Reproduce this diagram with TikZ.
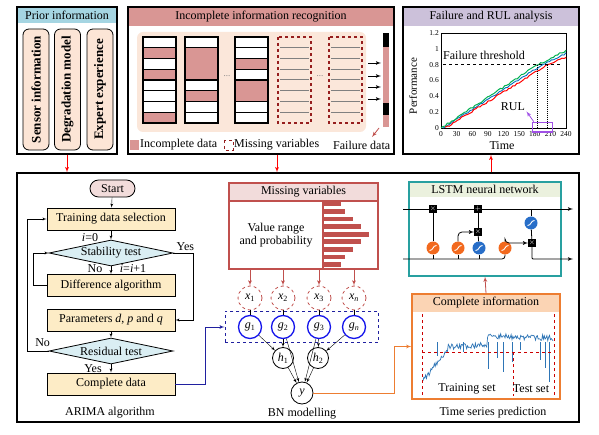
\documentclass[tikz,border=0pt]{standalone}
\usepackage{fontspec}
\setmainfont{Liberation Serif}
\usetikzlibrary{shapes,arrows,positioning,fit,calc}
\definecolor{priorblue}{RGB}{165,213,226}
\definecolor{peach}{RGB}{252,229,214}
\definecolor{rose}{RGB}{217,150,148}
\definecolor{panel}{RGB}{251,231,218}
\definecolor{darkrose}{RGB}{150,30,30}
\definecolor{lavender}{RGB}{204,193,218}
\definecolor{flowyellow}{RGB}{253,236,198}
\definecolor{testblue}{RGB}{218,238,243}
\definecolor{startpink}{RGB}{242,220,219}
\definecolor{bnrose}{RGB}{192,80,77}
\definecolor{navy}{RGB}{32,32,160}
\definecolor{gblue}{RGB}{20,20,235}
\definecolor{teal}{RGB}{40,160,160}
\definecolor{lstmband}{RGB}{235,241,222}
\definecolor{ciorange}{RGB}{237,125,49}
\definecolor{ciband}{RGB}{251,212,180}
\definecolor{sigorange}{RGB}{242,105,30}
\definecolor{sigblue}{RGB}{40,110,200}
\definecolor{tsblue}{RGB}{46,117,182}
\definecolor{rulgreen}{RGB}{0,176,80}
\definecolor{rulblue}{RGB}{0,112,192}
\definecolor{rulpurple}{RGB}{160,80,230}
\newcommand{\midfont}{\fontsize{12}{13}\selectfont}
\newcommand{\datacol}[2]{%
    \foreach \r in {1,...,8}
        \draw[cell] (#1,{26.25+\r*10.75}) rectangle ++(33,10.75);
    \foreach \r/\n in {#2}
        \draw[cell, fill=rose] (#1,{26.25+\r*10.75}) rectangle ++(33,{\n*10.75});
}
\tikzset{
    line/.style={draw, -latex'},
    frame/.style={draw, line width=1.3pt, inner sep=0pt},
    pill/.style={draw, thick, rounded corners=6pt, fill=peach, minimum width=121pt, minimum height=26pt, inner sep=0pt, font=\fontsize{13}{14}\selectfont\bfseries},
    cell/.style={draw, line width=1.1pt, fill=white},
    flowbox/.style={rectangle, draw, thick, fill=flowyellow, minimum width=128pt, minimum height=22pt, font=\midfont},
    test/.style={diamond, draw, thick, fill=testblue, aspect=4.8, minimum width=124pt, minimum height=26pt, inner sep=0pt, font=\midfont},
    xnode/.style={circle, draw=bnrose, dashed, thick, minimum size=24pt, inner sep=0pt, font=\midfont},
    gnode/.style={circle, draw=gblue, line width=1.3pt, minimum size=23pt, inner sep=0pt, font=\midfont},
    hnode/.style={circle, draw, thick, fill=white, minimum size=21pt, inner sep=0pt, font=\midfont},
    gate/.style={rectangle, fill=black, minimum size=7.5pt, inner sep=0pt, text=white, font=\bfseries\scriptsize},
    sigm/.style={circle, fill=#1, minimum size=13pt, inner sep=0pt,
        path picture={\draw[white, line width=0.9pt] ([shift={(-3.5pt,-2.5pt)}]path picture bounding box.center) .. controls +(4pt,0pt) and +(-4pt,0pt) .. ([shift={(3.5pt,2.5pt)}]path picture bounding box.center);}}
}
\begin{document}
\begin{tikzpicture}[x=1pt, y=-1pt]
    \useasboundingbox (0,0) rectangle (599,435);

    % Prior information
    \fill[priorblue] (17,7) rectangle (117,23);
    \node [frame, minimum width=100pt, minimum height=147pt] (pr) at (67,80.5) {};
    \node [font=\midfont] at (67,15) {Prior information};
    \node [pill, rotate=90] (sensor) at (36,89.5) {Sensor information};
    \node [pill, rotate=90] (degr) at (67.5,89.5) {Degradation model};
    \node [pill, rotate=90] (expert) at (100,89.5) {Expert experience};

    % Incomplete information recognition
    \fill[rose] (128,7) rectangle (394,26);
    \node [frame, minimum width=266pt, minimum height=147pt] (inc) at (261,80.5) {};
    \node [font=\midfont] at (261,16.5) {Incomplete information recognition};
    \fill[panel, rounded corners=6pt] (137,32) rectangle (366,132);
    \datacol{143}{2/1,4/1,8/1}
    \datacol{185}{2/3,6/1}
    \datacol{235}{3/1,5/2}
    \foreach \cx in {278,329} {
        \foreach \r in {1,...,7}
            \draw[gray, line width=1pt] (\cx+2,{37+\r*10.75}) -- (\cx+31,{37+\r*10.75});
        \draw[darkrose, dashed, line width=1.1pt] (\cx,37) rectangle (\cx+33,123);
    }
    \node [gray, font=\small] at (227,76) {...};
    \node [gray, font=\small] at (320,76) {...};
    \foreach \ay in {63,76,87,99}
        \draw[-latex', thick] (368,\ay) -- (381,\ay);
    \fill[rose] (383,33) rectangle (389,127);
    \fill[black] (383,33) rectangle (389,47);
    \fill[black] (383,103) rectangle (389,115);
    \draw[-latex', bnrose, thick] (379,128) -- (372,137);
    % legend
    \fill[rose] (130,140) rectangle (139,150);
    \node [font=\midfont, anchor=west, inner sep=1pt] at (139,145) {Incomplete data};
    \draw[darkrose, dashed, thick] (224,140) rectangle (233,150);
    \node [font=\midfont, anchor=west, inner sep=1pt] at (233,145) {Missing variables};
    \node [font=\midfont, anchor=west, inner sep=1pt] at (332,145) {Failure data};

    % Failure and RUL analysis
    \fill[lavender] (403,7) rectangle (579,26);
    \node [frame, minimum width=176pt, minimum height=147pt] (rul) at (491,80.5) {};
    \node [font=\midfont] at (491,16.5) {Failure and RUL analysis};
    \begin{scope}[shift={(441,128)}, x=0.521pt, y=79.2pt]
        \draw[thin] (0,0) rectangle (240,1.2);
        \foreach \v in {0,0.2,0.4,0.6,0.8,1,1.2}
            \node [font=\fontsize{7.5}{8}\selectfont, anchor=east, inner sep=1pt] at (-2,\v) {\v};
        \foreach \t in {0,30,...,240}
            \node [font=\fontsize{7.5}{8}\selectfont, anchor=north, inner sep=1pt] at (\t,-0.03) {\t};
        \pgfmathsetseed{11}
        \draw[rulblue, line width=0.9pt] plot[domain=4:240, samples=60] (\x, {max(0, min(0.0042*(\x-4), 0.8+0.0031*(\x-194)) + 0.01*rand)});
        \draw[rulgreen, line width=1pt] plot[domain=0:240, samples=60] (\x, {max(0, min(0.0043*\x, 0.8+0.0033*(\x-186)) + 0.012*rand)});
        \draw[red, line width=1pt] plot[domain=8:240, samples=60] (\x, {max(0, min(0.00406*(\x-8), 0.8+0.00286*(\x-205)) + 0.012*rand)});
        \draw[dashed, line width=1.1pt] (4,0.8) -- (232,0.8);
        \draw[densely dotted, line width=1pt] (186,0.8) -- (186,0);
        \draw[densely dotted, line width=1pt] (205,0.8) -- (205,0);
        \draw[rulpurple, line width=1.1pt] (176,0.07) rectangle (214,-0.05);
        \draw[-latex', rulpurple, thick] (178,0.08) -- (164,0.21);
        \node [font=\midfont, anchor=west, inner sep=1pt] at (2,0.915) {Failure threshold};
        \node [font=\midfont] at (138,0.27) {RUL};
    \end{scope}
    \node [font=\fontsize{11}{12}\selectfont, rotate=90] at (413,86) {Performance};
    \node [font=\midfont] at (502,146) {Time};

    % Lower frame
    \node [frame, minimum width=562pt, minimum height=249pt] (low) at (298,297.5) {};
    \draw[-latex', red, thick] (pr.south) -- (pr.south |- low.north);
    \draw[-latex', red, thick] ([xshift=16pt]inc.south) -- ([xshift=16pt]inc.south |- low.north);
    \draw[-latex', red, thick] (rul.south |- low.north) -- (rul.south);

    % ARIMA algorithm
    \node [draw, thick, fill=startpink, rounded corners=8.5pt, minimum width=45pt, minimum height=17pt, inner sep=0pt, font=\midfont] (st) at (112.5,188.5) {Start};
    \node [flowbox] (tds) at (111,219) {Training data selection};
    \node [test] (stab) at (111,253) {Stability test};
    \node [flowbox] (dif) at (111,285.5) {Difference algorithm};
    \node [flowbox] (par) at (111,320) {Parameters \textit{d}, \textit{p} and \textit{q}};
    \node [test] (res) at (111,351) {Residual test};
    \node [flowbox] (cd) at (111,384) {Complete data};
    \path [line] (st) -- (tds);
    \path [line] (tds) -- (stab);
    \path [line] (stab) -- (dif);
    \path [line] (stab.east) -- ++(20,0) |- (par.east);
    \path [line] (dif.west) -- ++(-13,0) |- (stab.west);
    \path [line] (par) -- (res);
    \path [line] (res.west) -- ++(-21,0) |- (tds.west);
    \path [line] (res) -- (cd);
    \node [font=\midfont] at ($(tds.south)+(-21,7)$) {\textit{i}=0};
    \node [font=\midfont] at ($(stab.east)+(12,-6)$) {Yes};
    \node [font=\midfont] at ($(stab.south)+(-16,2.5)$) {No};
    \node [font=\midfont] at ($(stab.south)+(22,2.5)$) {\textit{i}=\textit{i}+1};
    \node [font=\midfont] at ($(res.west)+(-6,-8)$) {No};
    \node [font=\midfont] at ($(res.south)+(-18,4)$) {Yes};
    \node [font=\midfont] at (110,413) {ARIMA algorithm};

    % BN modelling
    \fill[startpink] (229,183) rectangle (378,201);
    \node [draw=bnrose, line width=1.1pt, minimum width=149pt, minimum height=86pt, inner sep=0pt] (mv) at (303.5,226) {};
    \draw[bnrose, line width=1.1pt] (229,201) -- (378,201);
    \draw[bnrose, line width=1.1pt] (323,201) -- (323,269);
    \node [font=\midfont] at (303.5,192) {Missing variables};
    \node [font=\midfont, align=center] at (276,235) {Value range\\and probability};
    \foreach \i/\len in {0/17,1/21,2/29,3/37,4/45,5/37,6/29,7/21,8/17}
        \fill[bnrose] (324,{201.5+\i*7.6}) rectangle ++(\len,4.8);
    \node [xnode] (x1) at (250,298) {\textit{x}\textsubscript{1}};
    \node [xnode] (x2) at (283,298) {\textit{x}\textsubscript{2}};
    \node [xnode] (x3) at (319,298) {\textit{x}\textsubscript{3}};
    \node [xnode] (xn) at (354,298) {\textit{x}\textsubscript{\textit{n}}};
    \node [gnode] (g1) at (250,327) {\textit{g}\textsubscript{1}};
    \node [gnode] (g2) at (283,327) {\textit{g}\textsubscript{2}};
    \node [gnode] (g3) at (319,327) {\textit{g}\textsubscript{3}};
    \node [gnode] (gn) at (354,327) {\textit{g}\textsubscript{\textit{n}}};
    \node [draw=navy, dashed, line width=1.3pt, inner xsep=12.5pt, inner ysep=3.5pt, fit=(g1)(gn)] (gbox) {};
    \node [hnode] (h1) at (283,358) {\textit{h}\textsubscript{1}};
    \node [hnode] (h2) at (318,358) {\textit{h}\textsubscript{2}};
    \node [hnode, minimum size=22pt] (yv) at (302,393) {\textit{y}};
    \foreach \x in {x1,x2,x3,xn} {
        \draw[-latex', bnrose, thick] (\x |- mv.south) -- (\x);
    }
    \draw (x1) -- (g1);
    \draw (x2) -- (g2);
    \draw (x3) -- (g3);
    \draw (xn) -- (gn);
    \foreach \a/\b in {g1/h1,g2/h1,g3/h2,gn/h2,g2/yv,g3/yv,h1/yv,h2/yv}
        \path [line] (\a) -- (\b);
    \node [font=\midfont] at (302,414) {BN modelling};
    \draw[-latex', navy, thick] (cd.east) -- ++(30,0) |- (gbox.west);

    % LSTM neural network
    \fill[lstmband] (409,182) rectangle (561,197);
    \node [draw=teal, line width=1.1pt, minimum width=152pt, minimum height=94pt, inner sep=0pt] (lstm) at (485,229) {};
    \node [font=\midfont] at (485,189.5) {LSTM neural network};
    \coordinate (cin) at (403,209);
    \coordinate (cout) at (573,209);
    \coordinate (hin) at (403,259);
    \coordinate (hout) at (573,259);
    \node [gate] (fx) at (433,209) {$\times$};
    \node [gate] (ad) at (478,209) {$+$};
    \node [gate] (im) at (478,232) {$\times$};
    \node [gate] (om) at (532,243) {$\times$};
    \node [sigm=sigorange] (sf) at (433,248) {};
    \node [sigm=sigorange] (si) at (458,248) {};
    \node [sigm=sigblue] (tc) at (479,248) {};
    \node [sigm=sigorange] (so) at (505,248) {};
    \node [sigm=sigblue] (tt) at (531,223) {};
    \draw[thick] (cin) -- (fx);
    \draw[thick] (fx) -- (ad);
    \draw[thick, -latex'] (ad) -- (cout);
    \draw[thick, rounded corners=3pt] (hin) -| (so);
    \draw[thick] (sf |- hin) -- (sf);
    \draw[thick] (si |- hin) -- (si);
    \draw[thick] (tc |- hin) -- (tc);
    \draw[thick] (sf) -- (fx);
    \draw[thick, -latex', rounded corners=4pt] (si) |- (im);
    \draw[thick] (tc) -- (im);
    \draw[thick] (im) -- (ad);
    \draw[thick, -latex', rounded corners=4pt] (so) |- (om);
    \draw[thick] (tt |- cin) -- (tt);
    \draw[thick] (tt) -- (om);
    \draw[thick, -latex', rounded corners=1pt] (om) |- (hout);

    % Complete information
    \fill[ciband] (412,294) rectangle (560,312);
    \node [draw=ciorange, line width=1.3pt, minimum width=148pt, minimum height=105pt, inner sep=0pt] (ci) at (486,346.5) {};
    \node [font=\midfont] at (486,303) {Complete information};
    \pgfmathsetseed{5}
    \draw[tsblue, line width=0.7pt] plot[domain=423:553, samples=150] (\x, {((\x<448) ? (381-1.3*(\x-423)) : ((\x<487) ? (347-0.05*(\x-448)) : (336+0.03*(\x-487)))) + 2.8*rand});
    \foreach \sx/\sy in {437/356,463/352,488/369,497/358,503/372,512/362,520/350,540/360,545/368,549/382}
        \draw[tsblue, line width=0.6pt] (\sx,342) -- (\sx,\sy);
    \draw[red!80!black, dashed, thick] (422,314) -- (422,396);
    \draw[red!80!black, dashed, thick] (554,314) -- (554,396);
    \draw[red!80!black, dashed, thick] (422,352) -- (554,352);
    \draw[red!80!black, dashed, thick] (513,352) -- (513,396);
    \node [font=\midfont] at (467,389) {Training set};
    \node [font=\midfont] at (531,389) {Test set};
    \node [font=\midfont] at (493,413) {Time series prediction};
    \draw[-latex', bnrose, thick] (ci.north) -- (lstm.south);
    \draw[-latex', ciorange, thick] (yv.east) -- ++(81,0) |- (ci.west);
\end{tikzpicture}
\end{document}
